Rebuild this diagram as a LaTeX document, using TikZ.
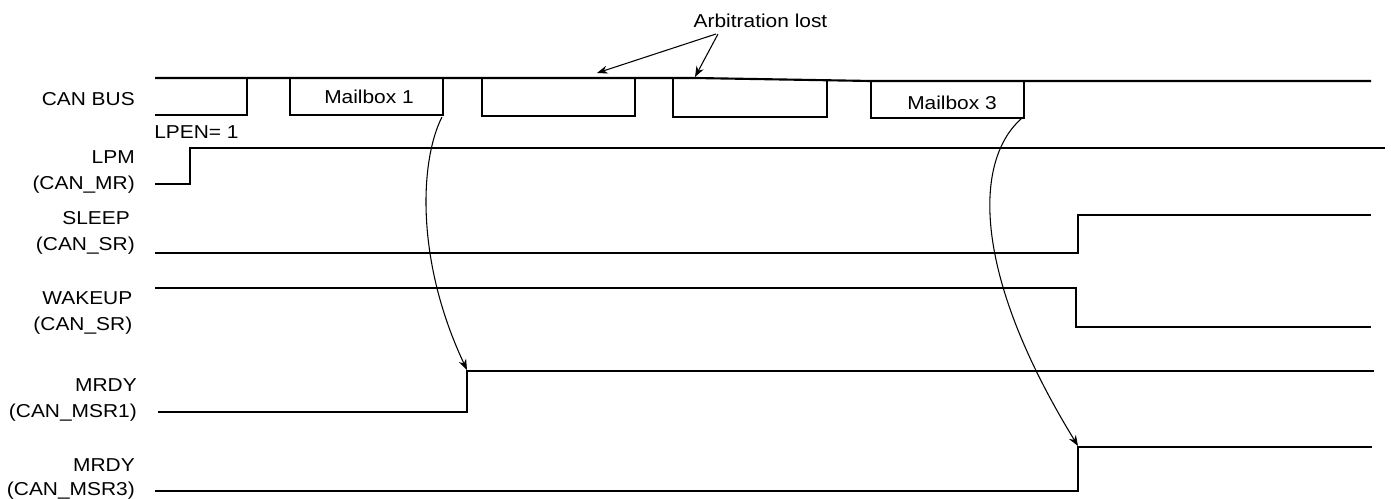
\documentclass[tikz,border=0pt]{standalone}
\usepackage{fontspec}
\setmainfont[FakeStretch=1.12]{Liberation Sans}
\usetikzlibrary{arrows.meta}
\begin{document}
\begin{tikzpicture}[x=0.75pt,y=-0.75pt,
  sig/.style={line width=1.6pt, line join=miter},
  lbl/.style={font=\fontsize{14}{17}\selectfont, inner sep=0pt, anchor=base east},
  txt/.style={font=\fontsize{14}{17}\selectfont, inner sep=0pt, anchor=base},
  pointer/.style={line width=0.8pt, -{Stealth[length=8pt,width=6pt]}}]
\useasboundingbox (0,0) rectangle (1391,499);

% ---- labels ----
\node[lbl] (lcan) at (135,105.5) {CAN BUS};
\node[txt, anchor=base west] (lpen) at (154,138.5) {LPEN= 1};
\node[lbl] (llpm) at (135,163.5) {LPM};
\node[lbl] (llpmr) at (135,190) {(CAN\_MR)};
\node[lbl] (lsleep) at (130,224) {SLEEP};
\node[lbl] (lsleepr) at (135,250) {(CAN\_SR)};
\node[lbl] (lwake) at (132.5,304) {WAKEUP};
\node[lbl] (lwaker) at (132.5,330) {(CAN\_SR)};
\node[lbl] (lm1) at (137,391.5) {MRDY};
\node[lbl] (lm1r) at (137,417.5) {(CAN\_MSR1)};
\node[lbl] (lm3) at (135,471.5) {MRDY};
\node[lbl] (lm3r) at (135,495) {(CAN\_MSR3)};

% ---- CAN bus ----
\draw[sig] (155,78) -- (695,78) -- (871,81) -- (1371,81);
\draw[sig] (155,115) -- (247,115) -- (247,78);
\draw[sig] (290,78) -- (290,115) -- (443,115) -- (443,78);
\draw[sig] (482,78) -- (482,116) -- (635,116) -- (635,78);
\draw[sig] (673,78) -- (673,117) -- (827,117) -- (827,80);
\draw[sig] (871,81) -- (871,118) -- (1024,118) -- (1024,81);
\node[txt] (mb1) at (369,103.5) {Mailbox 1};
\node[txt] (mb3) at (952,109.5) {Mailbox 3};

% ---- other signals ----
\draw[sig] (155,184) -- (190,184) -- (190,148) -- (1385,148);
\draw[sig] (155,253) -- (1078,253) -- (1078,215) -- (1371,215);
\draw[sig] (155,288) -- (1076,288) -- (1076,327) -- (1371,327);
\draw[sig] (158,412) -- (467,412) -- (467,371) -- (1374,371);
\draw[sig] (155,491) -- (1078,491) -- (1078,447) -- (1372,447);

% ---- annotations ----
\node[txt] (arb) at (760.5,28) {Arbitration lost};
\coordinate (arbA) at (716,34);
\coordinate (arbB) at (718,34);
\coordinate (lost1) at (597,73);
\coordinate (lost2) at (695,77);
\draw[pointer] (arbA) -- (lost1);
\draw[pointer] (arbB) -- (lost2);

\coordinate (mb1c) at (442,117);
\coordinate (r1) at (467,370);
\coordinate (mb3c) at (1021,119);
\coordinate (r3) at (1078,446);
\draw[pointer] (mb1c) .. controls (420,160) and (415,260) .. (r1);
\draw[pointer] (mb3c) .. controls (975,160) and (970,270) .. (r3);
\end{tikzpicture}
\end{document}
